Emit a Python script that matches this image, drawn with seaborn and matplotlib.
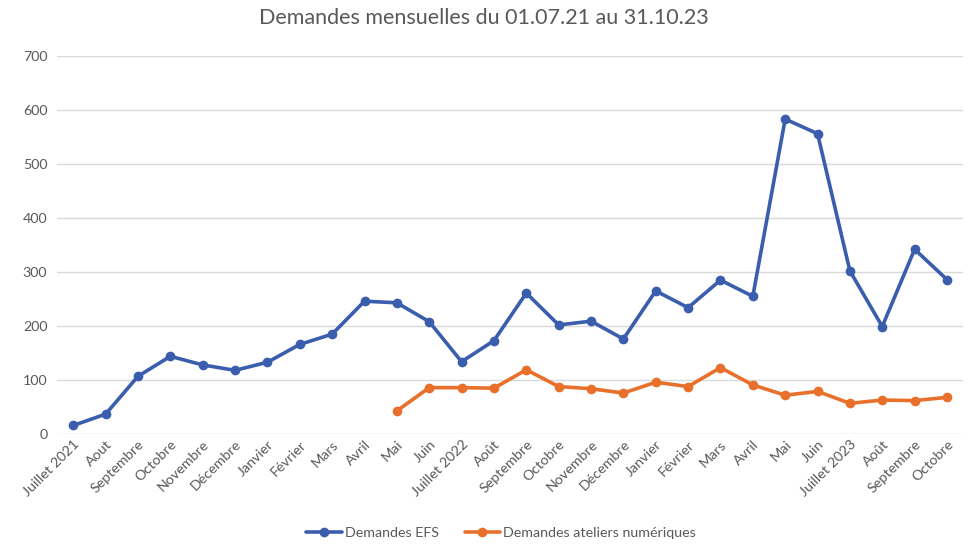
import numpy as np
import pandas as pd
import matplotlib.pyplot as plt
import seaborn as sns

# Month labels (01.07.21 -> 31.10.23)
mois = ["Juillet 2021", "Aout", "Septembre", "Octobre", "Novembre", "Décembre",
        "Janvier", "Février", "Mars", "Avril", "Mai", "Juin",
        "Juillet 2022", "Août", "Septembre", "Octobre", "Novembre", "Décembre",
        "Janvier", "Février", "Mars", "Avril", "Mai", "Juin",
        "Juillet 2023", "Août", "Septembre", "Octobre"]

efs = [16, 37, 107, 144, 128, 118, 133, 166, 185, 246, 243, 208,
       134, 173, 261, 202, 209, 176, 265, 234, 285, 255, 583, 556,
       302, 199, 342, 286]

# ateliers numériques start in Mai 2022
ateliers = [np.nan] * 10 + [43, 86, 86, 85, 119, 88, 84, 76, 96, 88,
                            123, 91, 72, 79, 57, 63, 62, 68]

df = pd.DataFrame({
    "pos": list(range(len(mois))) * 2,
    "valeur": efs + ateliers,
    "serie": ["Demandes EFS"] * len(mois) + ["Demandes ateliers numériques"] * len(mois),
})

sns.set_theme(style="white")
plt.rcParams["font.family"] = ["Lato", "DejaVu Sans"]

fig = plt.figure(figsize=(9.68, 5.53), dpi=100)
ax = fig.add_axes([0.059, 0.215, 0.936, 0.684])

sns.lineplot(data=df, x="pos", y="valeur", hue="serie",
             palette={"Demandes EFS": "#3A5DAE", "Demandes ateliers numériques": "#E8702A"},
             marker="o", markersize=7, markeredgewidth=0, linewidth=2.6, ax=ax)

ax.set_xlim(-0.5, len(mois) - 0.5)
ax.set_ylim(0, 700)
ax.set_yticks(range(0, 701, 100))
ax.set_xticks(range(len(mois)))
ax.set_xticklabels(mois, rotation=45, ha="right", rotation_mode="anchor",
                   fontsize=10.3, color="#595959")
ax.tick_params(axis="y", labelsize=10.3, labelcolor="#595959", length=0, pad=7)
ax.tick_params(axis="x", length=0, pad=3)
ax.yaxis.grid(True, color="#D9D9D9", linewidth=1)
ax.set_axisbelow(True)
for s in ax.spines.values():
    s.set_visible(False)
ax.set_xlabel("")
ax.set_ylabel("")

fig.suptitle("Demandes mensuelles du 01.07.21 au 31.10.23", y=0.985,
             fontsize=15.5, color="#595959")

handles, labels = ax.get_legend_handles_labels()
ax.legend(handles, labels, loc="center", ncol=2, frameon=False, fontsize=10.3,
          labelcolor="#595959", handlelength=2.5, columnspacing=1.8, handletextpad=0.2,
          bbox_to_anchor=(0.49, (1 - 533 / 553 - 0.215) / 0.684))

fig.savefig("out.png", dpi=100)
